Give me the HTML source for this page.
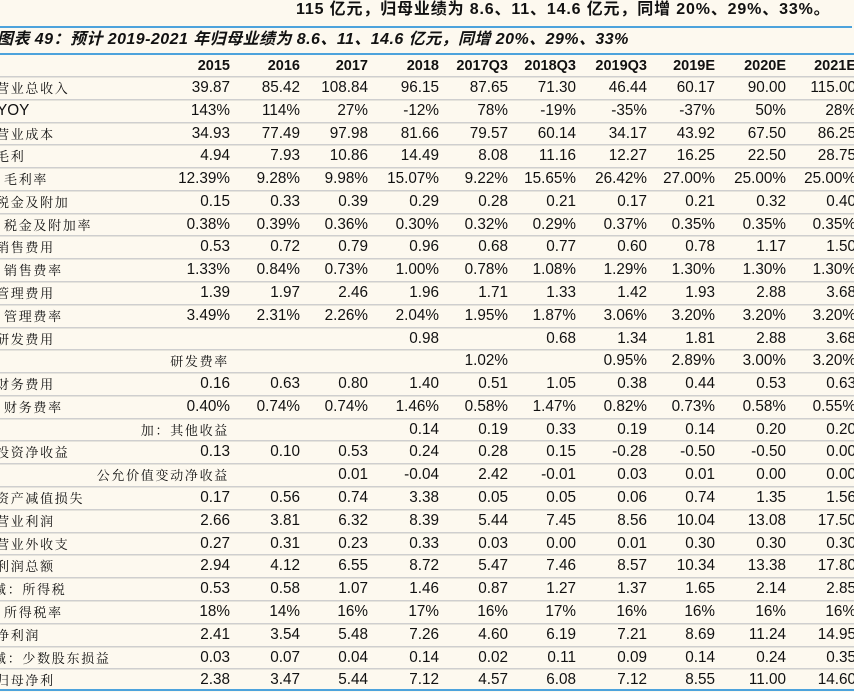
<!DOCTYPE html>
<html><head><meta charset="utf-8">
<style>
html,body{margin:0;padding:0;}
body{width:854px;height:692px;overflow:hidden;background:#fdf9ef;position:relative;font-family:"Liberation Sans","Noto Sans CJK SC",sans-serif;color:#111;}
.a{position:absolute;white-space:nowrap;}
.num{font-size:15.3px;line-height:22px;text-align:right;}
.lbl{font-family:"Noto Serif CJK SC","WenQuanYi Zen Hei",serif;font-size:13px;line-height:21px;letter-spacing:1.7px;}
.hd{font-weight:bold;font-size:14.5px;line-height:22px;text-align:right;}
.sep{position:absolute;left:0;width:854px;height:1px;background:#cfcfcf;border-bottom:1px solid #e6e4dc;}
.blue{position:absolute;left:0;height:2px;background:#4da3dc;}
</style></head>
<body>
<div class="a" style="left:296px;top:0px;font-size:16px;font-weight:bold;line-height:20px;letter-spacing:0.85px;">115 亿元，归母业绩为 8.6、11、14.6 亿元，同增 20%、29%、33%。</div>
<div class="blue" style="top:26px;width:852px;"></div>
<div class="a" style="left:-3px;top:30px;font-size:16px;font-weight:bold;font-style:italic;line-height:20px;letter-spacing:0.45px;">图表 49：预计 2019-2021 年归母业绩为 8.6、11、14.6 亿元，同增 20%、29%、33%</div>
<div class="blue" style="top:53px;width:854px;"></div>
<div class="blue" style="top:689px;width:854px;"></div>
<div id="tbl"></div>
<script>
const headers=["2015","2016","2017","2018","2017Q3","2018Q3","2019Q3","2019E","2020E","2021E"];
const labels=["营业总收入","YOY","营业成本","毛利","毛利率","税金及附加","税金及附加率","销售费用","销售费率","管理费用","管理费率","研发费用","研发费率","财务费用","财务费率","加：其他收益","投资净收益","公允价值变动净收益","资产减值损失","营业利润","营业外收支","利润总额","减：所得税","所得税率","净利润","减：少数股东损益","归母净利"];
const labelIndent=[0,0,0,0,1,0,1,0,1,0,1,0,2,0,1,2,0,2,0,0,0,0,-1,1,0,-1,0];
const values=[
["39.87","85.42","108.84","96.15","87.65","71.30","46.44","60.17","90.00","115.00"],
["143%","114%","27%","-12%","78%","-19%","-35%","-37%","50%","28%"],
["34.93","77.49","97.98","81.66","79.57","60.14","34.17","43.92","67.50","86.25"],
["4.94","7.93","10.86","14.49","8.08","11.16","12.27","16.25","22.50","28.75"],
["12.39%","9.28%","9.98%","15.07%","9.22%","15.65%","26.42%","27.00%","25.00%","25.00%"],
["0.15","0.33","0.39","0.29","0.28","0.21","0.17","0.21","0.32","0.40"],
["0.38%","0.39%","0.36%","0.30%","0.32%","0.29%","0.37%","0.35%","0.35%","0.35%"],
["0.53","0.72","0.79","0.96","0.68","0.77","0.60","0.78","1.17","1.50"],
["1.33%","0.84%","0.73%","1.00%","0.78%","1.08%","1.29%","1.30%","1.30%","1.30%"],
["1.39","1.97","2.46","1.96","1.71","1.33","1.42","1.93","2.88","3.68"],
["3.49%","2.31%","2.26%","2.04%","1.95%","1.87%","3.06%","3.20%","3.20%","3.20%"],
["","","","0.98","","0.68","1.34","1.81","2.88","3.68"],
["","","","","1.02%","","0.95%","2.89%","3.00%","3.20%"],
["0.16","0.63","0.80","1.40","0.51","1.05","0.38","0.44","0.53","0.63"],
["0.40%","0.74%","0.74%","1.46%","0.58%","1.47%","0.82%","0.73%","0.58%","0.55%"],
["","","","0.14","0.19","0.33","0.19","0.14","0.20","0.20"],
["0.13","0.10","0.53","0.24","0.28","0.15","-0.28","-0.50","-0.50","0.00"],
["","","0.01","-0.04","2.42","-0.01","0.03","0.01","0.00","0.00"],
["0.17","0.56","0.74","3.38","0.05","0.05","0.06","0.74","1.35","1.56"],
["2.66","3.81","6.32","8.39","5.44","7.45","8.56","10.04","13.08","17.50"],
["0.27","0.31","0.23","0.33","0.03","0.00","0.01","0.30","0.30","0.30"],
["2.94","4.12","6.55","8.72","5.47","7.46","8.57","10.34","13.38","17.80"],
["0.53","0.58","1.07","1.46","0.87","1.27","1.37","1.65","2.14","2.85"],
["18%","14%","16%","17%","16%","17%","16%","16%","16%","16%"],
["2.41","3.54","5.48","7.26","4.60","6.19","7.21","8.69","11.24","14.95"],
["0.03","0.07","0.04","0.14","0.02","0.11","0.09","0.14","0.24","0.35"],
["2.38","3.47","5.44","7.12","4.57","6.08","7.12","8.55","11.00","14.60"]
];
const colRight=[230,300,368,439,508,576,647,715,786,856];
const headerTop=55, rowH=22.78, firstRow=77;
const tbl=document.getElementById('tbl');
function mk(cls,txt,style){const d=document.createElement('div');d.className='a '+cls;d.textContent=txt;d.style.cssText=style;tbl.appendChild(d);return d;}
headers.forEach((h,i)=>{
  const d=mk('hd',h,`top:${headerTop}px;left:${colRight[i]-80}px;width:80px;`);
  
  
});
let s=document.createElement('div');s.className='sep';s.style.top=(firstRow-1)+'px';


tbl.appendChild(s);
labels.forEach((lab,r)=>{
  const top=firstRow+r*rowH;
  const ind=labelIndent[r];
  let st;
  if(ind===2){st=`top:${top}px;left:0px;width:229px;text-align:right;`;}
  else if(ind===1){st=`top:${top}px;left:4px;`;}
  else if(ind===-1){st=`top:${top}px;left:-7px;`;}
  else {st=`top:${top}px;left:-4px;`;}
  const isLatin=/^[A-Z]+$/.test(lab);
  const d=mk(isLatin?'num':'lbl',lab,st+(isLatin?'text-align:left;left:-3px;line-height:22px;':''));
  
  
  values[r].forEach((v,c)=>{
    if(!v)return;
    const e=mk('num',v,`top:${top}px;left:${colRight[c]-80}px;width:80px;`);
    
    
  });
  if(r<labels.length-1){
    const sp=document.createElement('div');sp.className='sep';sp.style.top=Math.round(top+rowH-1)+'px';
    
    
    tbl.appendChild(sp);
  }
});
</script>
</body></html>
